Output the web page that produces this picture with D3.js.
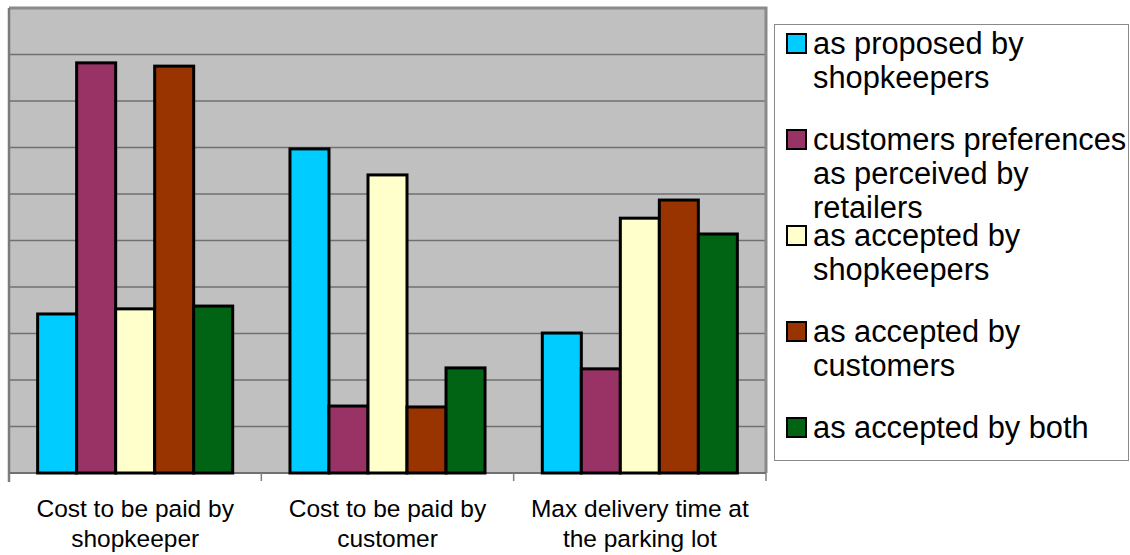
<!DOCTYPE html>
<meta charset="utf-8">
<svg width="1130" height="555"></svg>
<script src="https://d3js.org/d3.v7.min.js"></script>
<style>
  body {
    margin: 0;
    background: #fff;
  }
  text {
    font-family: "Liberation Sans", Arial, sans-serif;
    fill: #000;
  }
  .bar {
    stroke: #000;
    stroke-width: 3px;
  }
</style>
<script>
// categories on the x axis (each label split into two lines)
var categories = ["Cost to be paid by shopkeeper", "Cost to be paid by customer", "Max delivery time at the parking lot"];
var categoryLines = [["Cost to be paid by", "shopkeeper"], ["Cost to be paid by", "customer"], ["Max delivery time at", "the parking lot"]];

var seriesNames = ["as proposed by shopkeepers", "customers preferences as perceived by retailers",
                   "as accepted by shopkeepers", "as accepted by customers", "as accepted by both"];
var legendLines = [["as proposed by", "shopkeepers"], ["customers preferences", "as perceived by", "retailers"],
                   ["as accepted by", "shopkeepers"], ["as accepted by", "customers"], ["as accepted by both"]];
var seriesColors = ["#00ccff", "#993366", "#ffffcc", "#993300", "#006414"];

// values per series, one per category (no axis labels in source, read in gridline units)
var proposedByShopkeepers = [3.42, 6.97, 3.01];
var perceivedByRetailers  = [8.82, 1.44, 2.24];
var acceptedByShopkeepers = [3.53, 6.41, 5.48];
var acceptedByCustomers   = [8.75, 1.42, 5.87];
var acceptedByBoth        = [3.59, 2.26, 5.14];
var series = [proposedByShopkeepers, perceivedByRetailers, acceptedByShopkeepers, acceptedByCustomers, acceptedByBoth];

var yTicks = d3.range(0, 11);

var svg = d3.select("svg"),
    margin = {top: 8, left: 9},
    width = 757,
    height = 465,
    g = svg.append("g").attr("transform", "translate(" + margin.left + "," + margin.top + ")");

var x0 = d3.scaleBand()
    .domain(categories)
    .range([0, width])
    .paddingInner(0.227)
    .paddingOuter(0.1135);

var x1 = d3.scaleBand()
    .domain(seriesNames)
    .range([0, x0.bandwidth()]);

var y = d3.scaleLinear()
    .domain([0, 10])
    .range([height, 0]);

// plot background
g.append("rect")
    .attr("width", width)
    .attr("height", height)
    .attr("fill", "#c0c0c0");

// gridlines
g.append("g")
    .selectAll("line")
    .data(yTicks.slice(1, -1))
  .enter().append("line")
    .attr("x1", 0)
    .attr("x2", width)
    .attr("y1", function(d) { return y(d); })
    .attr("y2", function(d) { return y(d); })
    .attr("stroke", "#707070")
    .attr("stroke-width", 1.5);

// frame top / right
g.append("path")
    .attr("d", "M0," + y(10) + "H" + width + "V" + height)
    .attr("fill", "none")
    .attr("stroke", "#8a8a8a")
    .attr("stroke-width", 3);

// left axis
g.append("line")
    .attr("x1", 0).attr("x2", 0)
    .attr("y1", y(10)).attr("y2", height + 9)
    .attr("stroke", "#7a7a7a")
    .attr("stroke-width", 2.5);

// bottom axis with ticks at band boundaries
var boundaries = [0, width / 3, 2 * width / 3, width];
g.append("line")
    .attr("x1", 0).attr("x2", width)
    .attr("y1", height).attr("y2", height)
    .attr("stroke", "#707070")
    .attr("stroke-width", 2);
g.append("g")
    .selectAll("line")
    .data(boundaries)
  .enter().append("line")
    .attr("x1", function(d) { return d; })
    .attr("x2", function(d) { return d; })
    .attr("y1", height)
    .attr("y2", height + 8)
    .attr("stroke", "#808080")
    .attr("stroke-width", 1.5);

// bars
var groups = g.append("g")
    .selectAll("g")
    .data(categories)
  .enter().append("g")
    .attr("transform", function(d) { return "translate(" + x0(d) + ",0)"; });

groups.selectAll("rect")
    .data(function(d, ci) {
      return seriesNames.map(function(s, si) { return {series: s, i: si, value: series[si][ci]}; });
    })
  .enter().append("rect")
    .attr("class", "bar")
    .attr("x", function(d) { return x1(d.series); })
    .attr("width", x1.bandwidth())
    .attr("y", function(d) { return y(d.value); })
    .attr("height", function(d) { return height - y(d.value); })
    .attr("fill", function(d) { return seriesColors[d.i]; });

// category labels
var labels = g.append("g")
    .selectAll("text")
    .data(categories)
  .enter().append("text")
    .attr("text-anchor", "middle")
    .style("font-size", "24.5px")
    .attr("transform", function(d) { return "translate(" + (x0(d) + x0.bandwidth() / 2) + "," + (height + 44) + ")"; });

labels.selectAll("tspan")
    .data(function(d, i) { return categoryLines[i]; })
  .enter().append("tspan")
    .attr("x", 0)
    .attr("y", function(d, i) { return i * 30; })
    .text(function(d) { return d; });

// legend
var legend = svg.append("g");
legend.append("rect")
    .attr("x", 774.5)
    .attr("y", 24.5)
    .attr("width", 354)
    .attr("height", 436)
    .attr("fill", "#fff")
    .attr("stroke", "#8a8a8a")
    .attr("stroke-width", 1);

var items = legend.selectAll("g.item")
    .data(seriesNames)
  .enter().append("g")
    .attr("class", "item")
    .attr("transform", function(d, i) { return "translate(786," + (54 + i * 96) + ")"; });

items.append("rect")
    .attr("x", 1)
    .attr("y", -20)
    .attr("width", 19)
    .attr("height", 19)
    .attr("fill", function(d, i) { return seriesColors[i]; })
    .attr("stroke", "#000")
    .attr("stroke-width", 2);

items.append("text")
    .style("font-size", "30.8px")
    .selectAll("tspan")
    .data(function(d, i) { return legendLines[i]; })
  .enter().append("tspan")
    .attr("x", 27)
    .attr("y", function(d, i) { return i * 34; })
    .text(function(d) { return d; });
</script>
